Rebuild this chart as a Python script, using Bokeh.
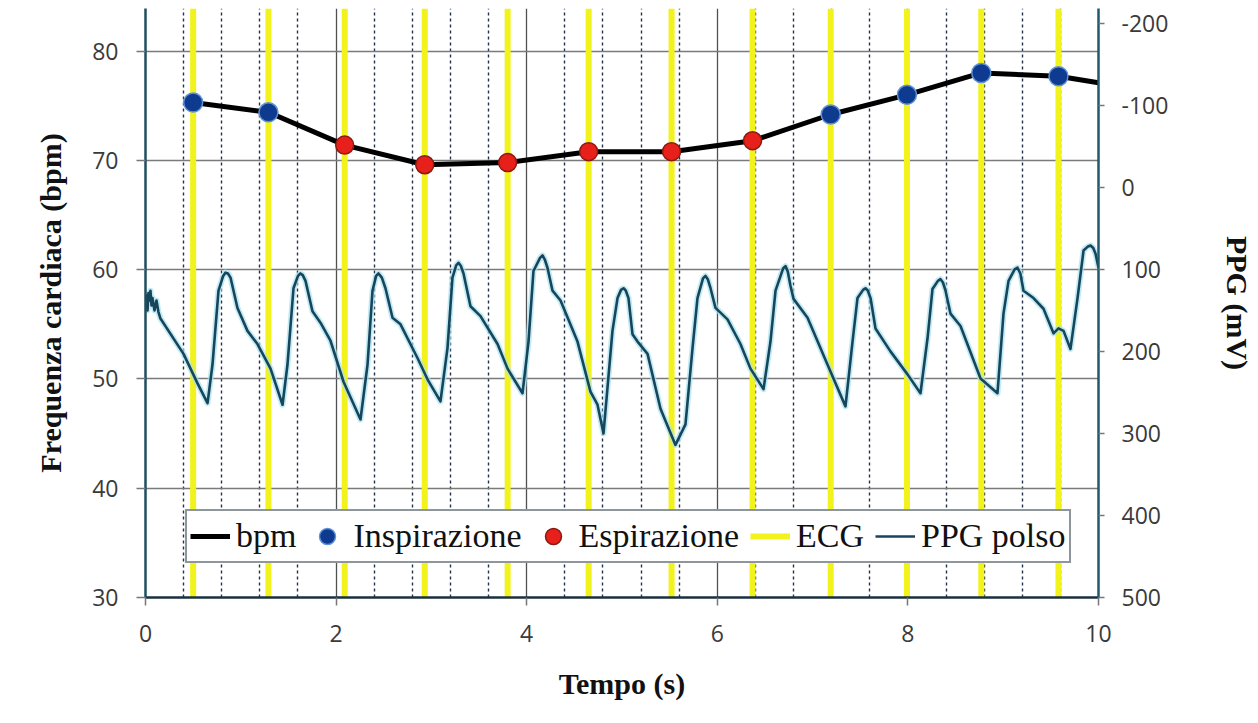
from bokeh.plotting import figure
from bokeh.models import Range1d, LinearAxis, FixedTicker, Legend, LegendItem
from bokeh.embed import file_html
from bokeh.resources import INLINE

# ---- data ----
beat_t = [0.50, 1.29, 2.09, 2.93, 3.80, 4.65, 5.52, 6.37, 7.19, 7.99, 8.77, 9.58]
beat_bpm = [75.3, 74.4, 71.4, 69.6, 69.8, 70.8, 70.8, 71.8, 74.2, 76.0, 78.0, 77.7]
beat_phase = ["I", "I", "E", "E", "E", "E", "E", "E", "I", "I", "I", "I"]
bpm_end_t = 10.0
bpm_end_v = 77.1

ppg_t = [0.000, 0.011, 0.021, 0.031, 0.042, 0.052, 0.063, 0.073, 0.094, 0.115, 0.136,
         0.157, 0.399, 0.546, 0.651, 0.703, 0.766, 0.815, 0.839, 0.865, 0.892, 0.965, 1.070, 1.175,
         1.312, 1.438, 1.490, 1.553, 1.600, 1.626, 1.650, 1.679, 1.752, 1.836, 1.941, 2.078, 2.256,
         2.330, 2.382, 2.420, 2.445, 2.480, 2.518, 2.592, 2.676, 2.854, 2.959, 3.095, 3.169, 3.221,
         3.260, 3.284, 3.310, 3.337, 3.410, 3.515, 3.694, 3.799, 3.956, 4.019, 4.071, 4.140, 4.166, 4.190, 4.218,
         4.271, 4.355, 4.533, 4.669, 4.743, 4.806, 4.900, 4.953, 4.990, 5.016, 5.040, 5.068, 5.110,
         5.163, 5.268, 5.404, 5.561, 5.666, 5.740, 5.792, 5.850, 5.876, 5.900, 5.929, 5.981, 6.107,
         6.243, 6.348, 6.485, 6.558, 6.611, 6.690, 6.716, 6.740, 6.768, 6.800, 6.947, 7.156, 7.345,
         7.419, 7.471, 7.530, 7.555, 7.580, 7.608, 7.660, 7.817, 7.996, 8.132, 8.206, 8.258, 8.315, 8.342, 8.368,
         8.395, 8.447, 8.552, 8.762, 8.940, 9.003, 9.056, 9.120, 9.150, 9.180, 9.213, 9.318, 9.423,
         9.528, 9.580, 9.633, 9.706, 9.780, 9.843, 9.890, 9.916, 9.945, 9.969, 10.000]
ppg_mv = [144, 132, 150, 129, 138, 126, 144, 135, 150, 138, 152,
          160, 203, 239, 263, 216, 126, 108, 104, 105, 110, 147, 175, 191,
          221, 265, 216, 123, 108, 105, 107, 114, 151, 165, 187, 237, 283,
          216, 126, 108, 105, 110, 123, 159, 167, 208, 234, 261, 196, 110,
          95, 92, 96, 105, 145, 157, 191, 221, 251, 188, 102, 86, 83, 88, 98,
          126, 138, 188, 249, 265, 300, 175, 135, 125, 123, 126, 135, 179,
          188, 203, 270, 314, 289, 196, 135, 111, 108, 112, 123, 147, 161,
          191, 221, 246, 188, 126, 99, 96, 103, 120, 136, 159, 216, 267,
          188, 135, 125, 123, 126, 135, 172, 200, 228, 251, 184, 124, 114, 112, 116,
          126, 154, 169, 233, 251, 154, 114, 100, 98, 105, 126, 135, 148,
          178, 172, 175, 197, 135, 77, 72, 71, 74, 81, 98]

x_ticks = [0, 2, 4, 6, 8, 10]
bpm_ticks = [30, 40, 50, 60, 70, 80]
ppg_ticks = [-200, -100, 0, 100, 200, 300, 400, 500]

insp_t = [t for t, ph in zip(beat_t, beat_phase) if ph == "I"]
insp_v = [v for v, ph in zip(beat_bpm, beat_phase) if ph == "I"]
esp_t = [t for t, ph in zip(beat_t, beat_phase) if ph == "E"]
esp_v = [v for v, ph in zip(beat_bpm, beat_phase) if ph == "E"]

# ---- figure ----
p = figure(width=1258, height=723, x_range=Range1d(0, 10), y_range=Range1d(30, 83.9),
           output_backend="svg", toolbar_location=None,
           min_border_left=145, min_border_right=160, min_border_top=8, min_border_bottom=126)
p.extra_y_ranges = {"ppg": Range1d(start=500, end=-218)}
p.outline_line_color = None
p.background_fill_color = "white"
p.border_fill_color = "white"

tick_font = "Open Sans"
title_font = "Liberation Serif"

# grids
minor_x = [round(i * 0.4, 1) for i in range(1, 25) if i % 5 != 0]
p.xgrid.ticker = FixedTicker(ticks=[2, 4, 6, 8], minor_ticks=minor_x)
p.xgrid.grid_line_color = "#505050"
p.xgrid.grid_line_width = 1.3
p.xgrid.minor_grid_line_color = "#22324d"
p.xgrid.minor_grid_line_dash = "3 3"
p.xgrid.minor_grid_line_width = 1.4
p.ygrid.ticker = FixedTicker(ticks=[40, 50, 60, 70, 80])
p.ygrid.grid_line_color = "#7a7a7a"
p.ygrid.grid_line_width = 1.6

def style_ticks(ax):
    ax.major_label_text_font = tick_font
    ax.major_label_text_font_size = "23px"
    ax.major_label_text_color = "#3a3a3a"
    ax.major_tick_in = 0
    ax.major_tick_line_color = "#777777"
    ax.major_tick_line_width = 1.5
    ax.minor_tick_line_color = None
    ax.axis_label_text_font = title_font
    ax.axis_label_text_font_style = "bold"
    ax.axis_label_text_font_size = "30px"
    ax.axis_label_text_color = "#111111"

# left axis
ya = p.yaxis[0]
ya.ticker = FixedTicker(ticks=bpm_ticks)
ya.axis_label = "Frequenza cardiaca (bpm)"
style_ticks(ya)
ya.axis_label_standoff = 22
ya.major_label_standoff = 18
ya.major_tick_out = 9
ya.axis_line_color = "#1f4e5f"
ya.axis_line_width = 2.5

# bottom axis
xa = p.xaxis[0]
xa.ticker = FixedTicker(ticks=x_ticks)
xa.axis_label = "Tempo (s)"
style_ticks(xa)
xa.axis_label_standoff = 22
xa.major_label_standoff = 19
xa.major_tick_out = 8
xa.axis_line_color = "#1a3040"
xa.axis_line_width = 2.5

# right axis
ra = LinearAxis(y_range_name="ppg", ticker=FixedTicker(ticks=ppg_ticks), axis_label="PPG (mV)")
style_ticks(ra)
ra.major_label_overrides = {t: str(t) for t in ppg_ticks}
ra.axis_label_standoff = 50
ra.major_label_standoff = 17
ra.major_tick_out = 6
ra.axis_line_color = "#1f5a6a"
ra.axis_line_width = 2.5
p.add_layout(ra, "right")

# ECG markers (vertical lines through the whole plot height)
n = len(beat_t)
ecg_r = p.segment(x0=beat_t, x1=beat_t,
                  y0=[p.y_range.start] * n, y1=[p.y_range.end] * n,
                  line_color="#f2f21c", line_width=6)

# PPG
p.line(x=ppg_t, y=ppg_mv, y_range_name="ppg", line_color="#a6e3f0", line_width=6, line_alpha=0.7,
       line_join="round")
ppg_r = p.line(x=ppg_t, y=ppg_mv, y_range_name="ppg", line_color="#17455c", line_width=2.6,
               line_join="round")

# bpm
bpm_r = p.line(x=beat_t + [bpm_end_t], y=beat_bpm + [bpm_end_v], line_color="black", line_width=5,
               line_join="round")
insp_r = p.scatter(x=insp_t, y=insp_v, size=19, fill_color="#0e3a8f", line_color="#5f93d8",
                   line_width=1.5)
esp_r = p.scatter(x=esp_t, y=esp_v, size=18, fill_color="#e8201b", line_color="#8a1a10",
                  line_width=1.5)

legend = Legend(items=[
    LegendItem(label="bpm", renderers=[bpm_r]),
    LegendItem(label="Inspirazione", renderers=[insp_r]),
    LegendItem(label="Espirazione", renderers=[esp_r]),
    LegendItem(label="ECG", renderers=[ecg_r]),
    LegendItem(label="PPG polso", renderers=[ppg_r]),
], location=(40, 34), orientation="horizontal")
legend.label_text_font = title_font
legend.label_text_font_size = "34px"
legend.label_text_color = "#111111"
legend.label_height = 36
legend.glyph_width = 40
legend.glyph_height = 44
legend.label_standoff = 6
legend.spacing = 11
legend.padding = 3
legend.margin = 0
legend.border_line_color = "#1c3038"
legend.border_line_width = 2.5
legend.background_fill_color = "white"
legend.background_fill_alpha = 1.0
p.add_layout(legend)

open("out.html", "w").write(file_html(p, INLINE))
